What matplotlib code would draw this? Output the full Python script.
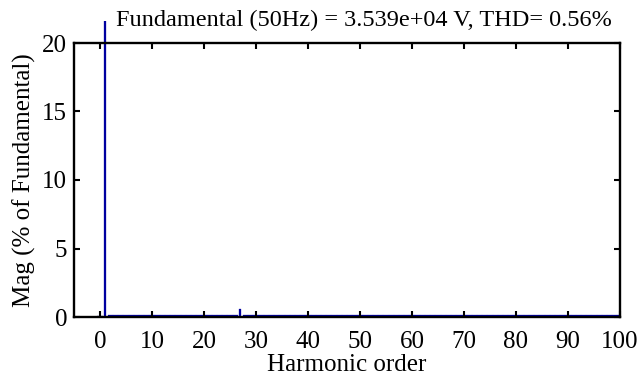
import matplotlib
matplotlib.use('Agg')
import matplotlib.pyplot as plt
from matplotlib.transforms import Bbox, TransformedBbox

plt.rcParams['font.family'] = ['Liberation Serif', 'DejaVu Serif']

# harmonic spectrum, % of fundamental (fundamental itself = 100)
harmonic_order = list(range(0, 101))
mag = [0.10, 100.0, 0.17, 0.15, 0.15, 0.16, 0.15, 0.17, 0.15, 0.15,
       0.16, 0.15, 0.17, 0.15, 0.16, 0.15, 0.15, 0.17, 0.15, 0.16,
       0.15, 0.15, 0.16, 0.15, 0.17, 0.16, 0.17, 0.62, 0.17, 0.16,
       0.15, 0.15, 0.16, 0.15, 0.15, 0.16, 0.15, 0.15, 0.16, 0.15,
       0.15, 0.16, 0.15, 0.15, 0.16, 0.15, 0.15, 0.16, 0.15, 0.15,
       0.16, 0.15, 0.15, 0.16, 0.15, 0.15, 0.16, 0.15, 0.15, 0.16,
       0.15, 0.15, 0.16, 0.15, 0.15, 0.16, 0.15, 0.15, 0.16, 0.15,
       0.15, 0.16, 0.15, 0.15, 0.16, 0.15, 0.15, 0.16, 0.15, 0.15,
       0.16, 0.15, 0.15, 0.16, 0.15, 0.15, 0.16, 0.15, 0.15, 0.16,
       0.15, 0.15, 0.16, 0.15, 0.15, 0.16, 0.15, 0.15, 0.16, 0.15,
       0.15]
title_txt = 'Fundamental (50Hz) = 3.539e+04 V, THD= 0.56%'
xticks = list(range(0, 101, 10))
yticks = [0, 5, 10, 15, 20]

fig = plt.figure(figsize=(6.42, 3.79), dpi=100)
ax = fig.add_axes([74 / 642, 1 - 317 / 379, 546 / 642, 274 / 379])

# tall bars thin, the tiny ones touching so they read as a continuous strip
widths = [0.4 if m > 0.3 else 1.0 for m in mag]
bars = ax.bar(harmonic_order, mag, width=widths, color='#0000a0', edgecolor='#0000a0', linewidth=0.2)
ax.set_xlim(-5, 100)
ax.set_ylim(0, 20)

# the fundamental bar sticks out above the axes up to the title line
clip = TransformedBbox(Bbox([[-5, 0], [100, 21.6]]), ax.transData)
for b in bars:
    b.set_clip_box(clip)

ax.set_xticks(xticks)
ax.set_yticks(yticks)
ax.tick_params(direction='in', length=4, width=1.5, top=True, right=True, labelsize=18)
ax.tick_params(axis='x', pad=10)
ax.tick_params(axis='y', pad=5)
for s in ax.spines.values():
    s.set_linewidth(1.7)

ax.set_xlabel('Harmonic order', fontsize=18, labelpad=1)
ax.set_ylabel('Mag (% of Fundamental)', fontsize=18, labelpad=4)
fig.text(116 / 642, 1 - 20 / 379, title_txt, fontsize=17.5, ha='left', va='center')

fig.savefig('out.png', dpi=100)
